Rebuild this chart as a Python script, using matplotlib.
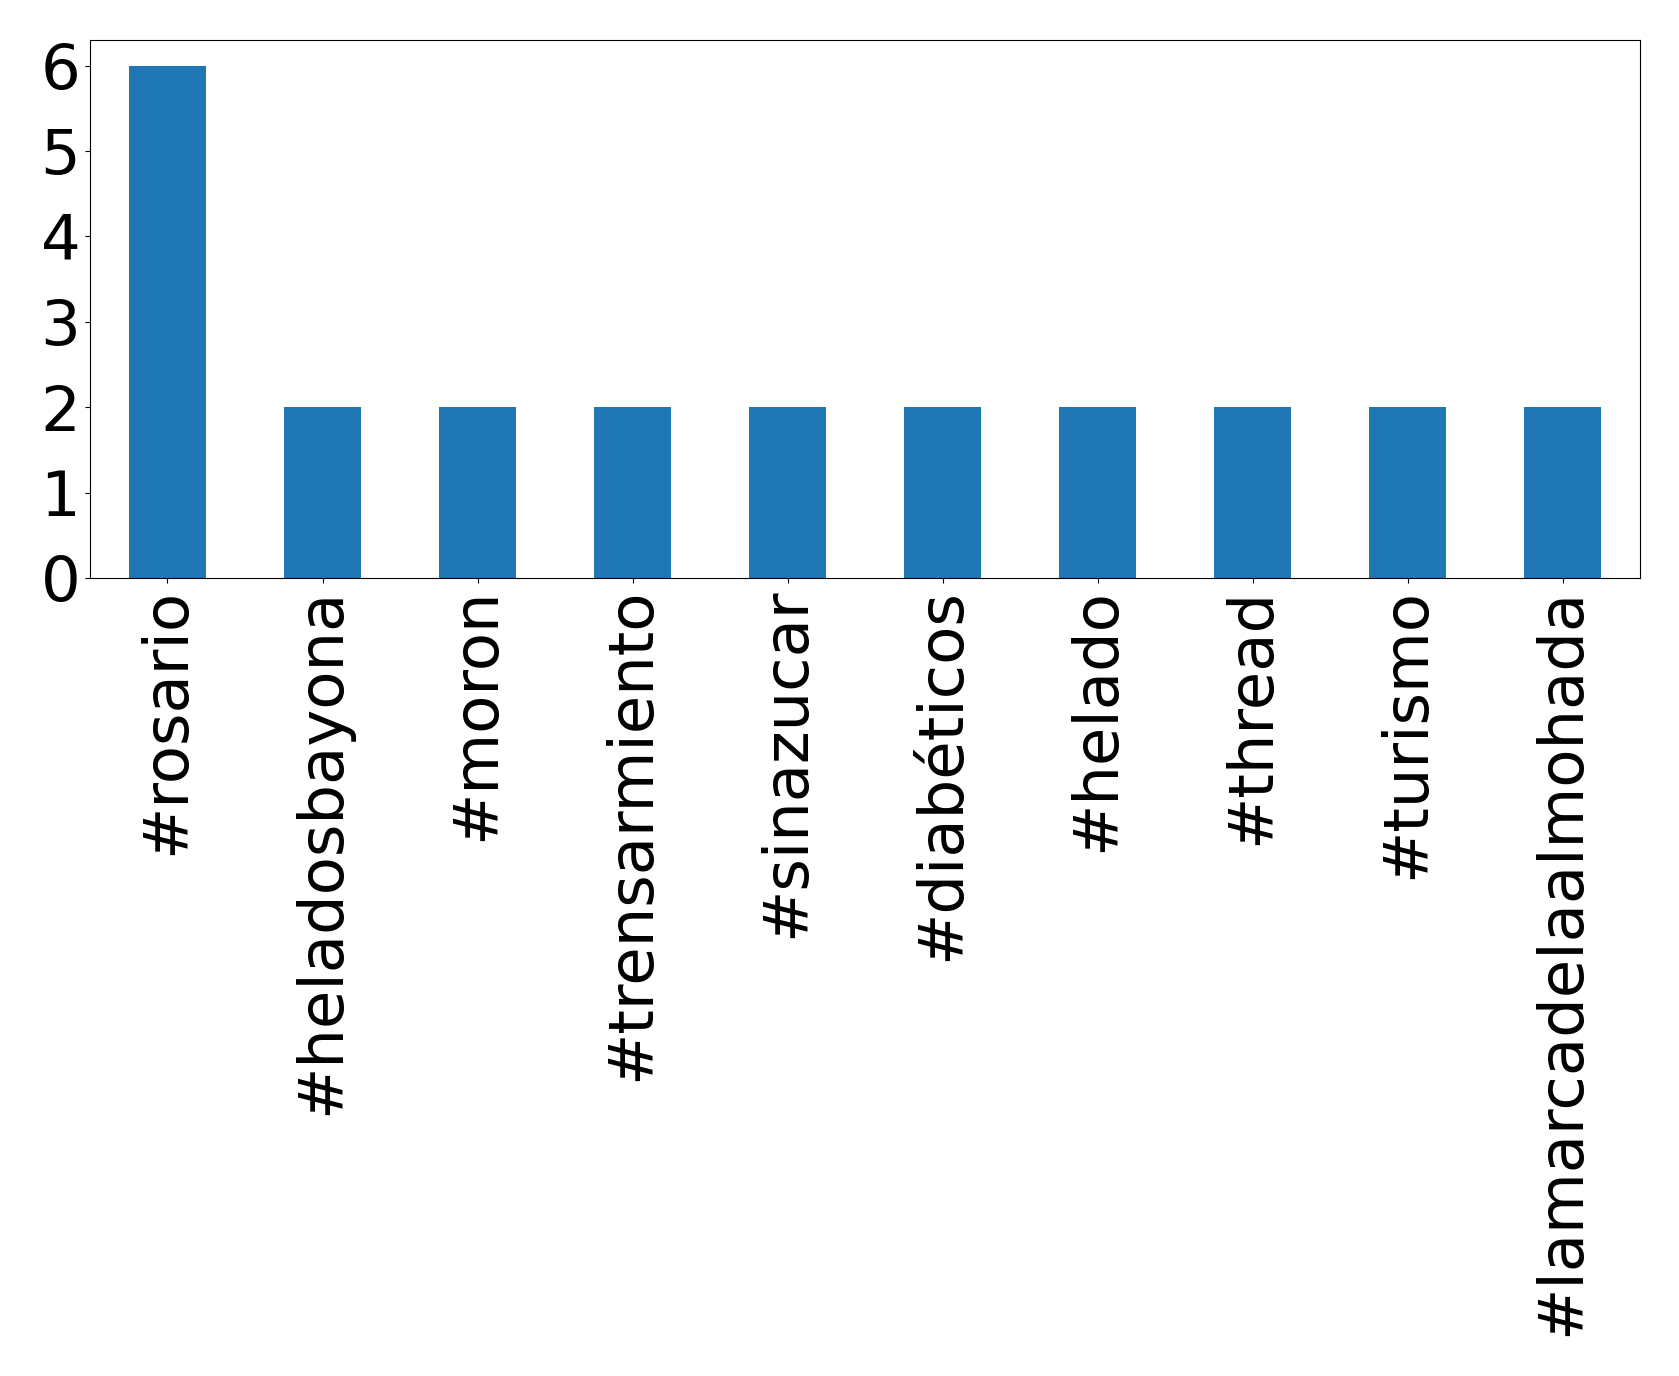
import matplotlib
matplotlib.use("Agg")
import matplotlib.pyplot as plt
import pandas as pd

hashtags = ["#rosario", "#heladosbayona", "#moron", "#trensarmiento", "#sinazucar",
            "#diabéticos", "#helado", "#thread", "#turismo", "#lamarcadelaalmohada"]
counts = [6, 2, 2, 2, 2, 2, 2, 2, 2, 2]

s = pd.Series(counts, index=hashtags)

fig = plt.figure(figsize=(16.79, 13.76), dpi=100)
ax = fig.add_axes([0.0536, 0.580, 0.9232, 0.391])
s.plot(kind="bar", ax=ax, color="#1f77b4")
ax.set_yticks(range(0, max(counts) + 1))
ax.tick_params(axis="both", labelsize=45)

fig.savefig("out.png", dpi=100)
